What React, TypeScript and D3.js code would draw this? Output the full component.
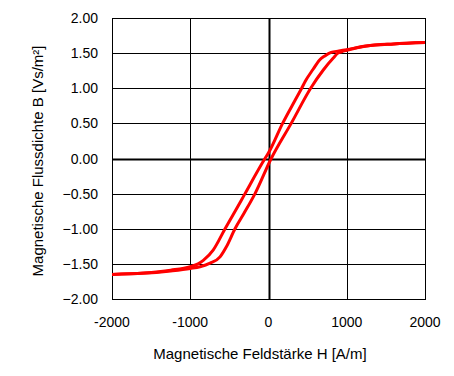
import React from "react";
import * as d3 from "d3";

// Descending branch (upper curve): [H (A/m), B (Vs/m²)]
const upperBranch: [number, number][] = [
  [2000, 1.65], [1600, 1.63], [1250, 1.6], [1000, 1.55], [900, 1.53], [800, 1.51],
  [720, 1.46], [650, 1.4], [570, 1.27], [470, 1.1], [424, 1.0], [340, 0.83],
  [180, 0.5], [0, 0.08], [-45, 0], [-300, -0.5], [-345, -0.59], [-555, -1.0],
  [-705, -1.3], [-833, -1.45], [-900, -1.5], [-1000, -1.54], [-1250, -1.59],
  [-1600, -1.63], [-2000, -1.65],
];

// Ascending branch (lower curve)
const lowerBranch: [number, number][] = [
  [-2000, -1.65], [-1600, -1.635], [-1250, -1.6], [-1000, -1.565], [-875, -1.54],
  [-747, -1.49], [-619, -1.4], [-540, -1.26], [-428, -1.0], [-313, -0.78],
  [-172, -0.5], [35, 0], [290, 0.5], [539, 1.0], [700, 1.26], [828, 1.43],
  [888, 1.5], [935, 1.52], [1000, 1.54], [1250, 1.6], [1600, 1.63], [2000, 1.65],
];

const xTicks = [-2000, -1000, 0, 1000, 2000];
const yTicks = [-2, -1.5, -1, -0.5, 0, 0.5, 1, 1.5, 2];
const xTitle = "Magnetische Feldstärke H [A/m]";
const yTitle = "Magnetische Flussdichte  B [Vs/m²]";

export default function App() {
  const W = 454, H = 376;
  const left = 112, right = 425, top = 18, bottom = 299;
  const x = d3.scaleLinear().domain([-2000, 2000]).range([left, right]);
  const y = d3.scaleLinear().domain([-2, 2]).range([bottom, top]);
  const line = d3
    .line<[number, number]>()
    .x((d) => x(d[0]))
    .y((d) => y(d[1]))
    .curve(d3.curveMonotoneX);
  const sortByH = (a: [number, number][]) => [...a].sort((p, q) => p[0] - q[0]);
  const font = "'Liberation Sans', Arial, sans-serif";

  return (
    <svg
      width={W}
      height={H}
      style={{ position: "absolute", left: 0, top: 0, background: "#fff" }}
      fontFamily={font}
    >
      <rect x={0} y={0} width={W} height={H} fill="#fff" />
      {xTicks.map((t) => (
        <line
          key={"gx" + t}
          x1={Math.round(x(t)) + 0.5}
          x2={Math.round(x(t)) + 0.5}
          y1={top}
          y2={bottom}
          stroke="#000"
          strokeWidth={t === 0 ? 2 : 1}
        />
      ))}
      {yTicks.map((t) => (
        <line
          key={"gy" + t}
          x1={left}
          x2={right}
          y1={Math.round(y(t)) + 0.5}
          y2={Math.round(y(t)) + 0.5}
          stroke="#000"
          strokeWidth={t === 0 ? 2 : 1}
        />
      ))}
      <rect
        x={left + 0.5}
        y={top + 0.5}
        width={right - left}
        height={bottom - top}
        fill="none"
        stroke="#000"
        strokeWidth={1}
      />
      <path d={line(sortByH(upperBranch)) || ""} fill="none" stroke="#ff0000" strokeWidth={3} />
      <path d={line(sortByH(lowerBranch)) || ""} fill="none" stroke="#ff0000" strokeWidth={3} />
      {yTicks.map((t) => (
        <text
          key={"ly" + t}
          x={98}
          y={y(t)}
          dy="0.36em"
          textAnchor="end"
          fontSize={14}
          fill="#000"
        >
          {d3.format(".2f")(t)}
        </text>
      ))}
      {xTicks.map((t) => (
        <text key={"lx" + t} x={x(t)} y={327} textAnchor="middle" fontSize={14} fill="#000">
          {String(t)}
        </text>
      ))}
      <text x={260} y={359} textAnchor="middle" fontSize={15} fill="#000">
        {xTitle}
      </text>
      <text
        transform={`translate(43,161) rotate(-90)`}
        textAnchor="middle"
        fontSize={15}
        fill="#000"
      >
        {yTitle}
      </text>
    </svg>
  );
}
